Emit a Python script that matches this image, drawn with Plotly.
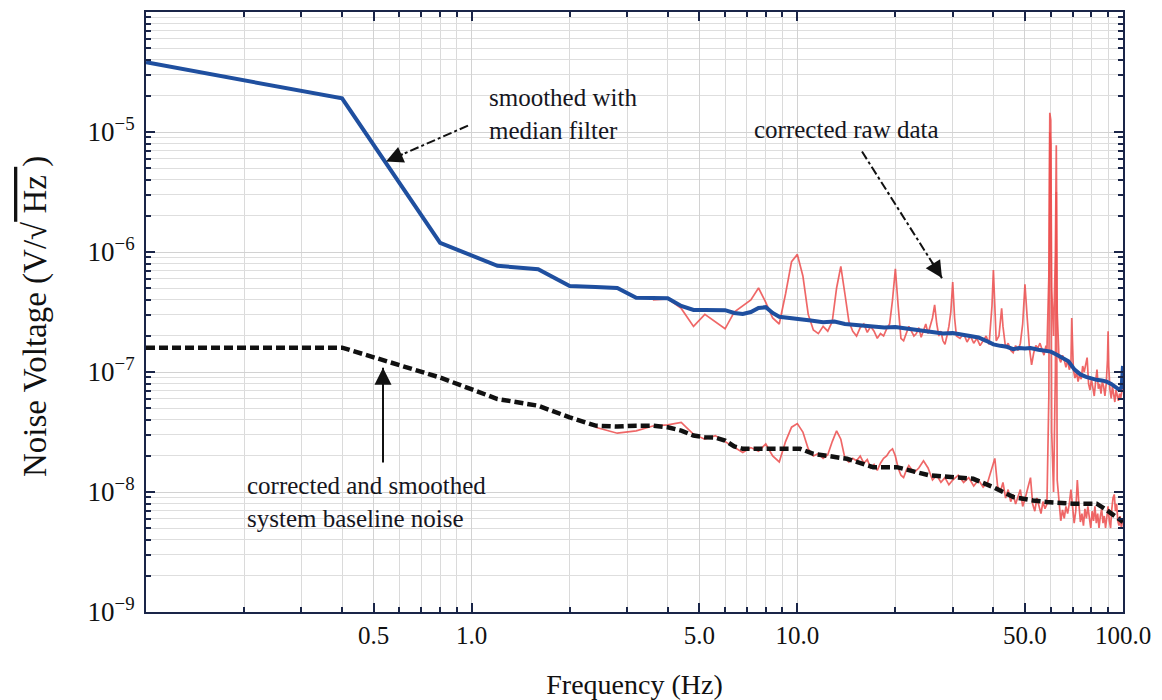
import plotly.graph_objects as go

# ---------------- data ----------------
# smoothed (median filter) measured noise, frequency in Hz, value as log10(V/sqrt(Hz))
smooth_freq = [0.1, 0.4, 0.8, 1.2, 1.6, 2.0, 2.4, 2.8, 3.2, 3.6, 4.0, 4.4, 4.8, 5.2, 5.6, 6.0,
               6.4, 6.8, 7.2, 7.6, 8.0, 8.4, 8.8, 10, 11, 12, 13, 14, 15.5, 17, 18.5, 20, 22,
               24, 26, 28, 30, 32, 34, 36, 38, 40, 42, 44, 46, 48, 50, 52, 55, 58, 60, 62, 65,
               68, 71, 74, 77, 80, 83, 86, 89, 92, 95, 97, 99, 100]
smooth_log10v = [-4.419, -4.720, -5.924, -6.115, -6.143, -6.284, -6.292, -6.300, -6.381, -6.383,
                 -6.385, -6.450, -6.483, -6.483, -6.485, -6.485, -6.508, -6.517, -6.500, -6.467,
                 -6.460, -6.508, -6.540, -6.555, -6.570, -6.585, -6.580, -6.600, -6.610, -6.615,
                 -6.630, -6.625, -6.640, -6.655, -6.660, -6.680, -6.675, -6.690, -6.700, -6.712,
                 -6.740, -6.770, -6.782, -6.790, -6.810, -6.800, -6.805, -6.800, -6.815, -6.824,
                 -6.830, -6.850, -6.880, -6.910, -6.980, -7.020, -7.040, -7.055, -7.065, -7.070,
                 -7.080, -7.100, -7.130, -7.145, -7.130, -6.950]

# smoothed system baseline noise
base_freq = [0.1, 0.4, 0.8, 1.2, 1.6, 2.0, 2.4, 2.8, 3.2, 3.6, 4.0, 4.4, 4.8, 5.2, 5.6, 6.0,
             6.4, 6.8, 8.8, 10.2, 11.2, 14.2, 17.1, 20.2, 25.5, 34.7, 40, 46.1, 52.9, 58.3,
             70, 83, 88, 92, 96.5, 100]
base_log10v = [-6.797, -6.797, -7.046, -7.225, -7.281, -7.378, -7.447, -7.455, -7.447, -7.447,
               -7.461, -7.488, -7.530, -7.544, -7.546, -7.571, -7.620, -7.640, -7.640, -7.640,
               -7.682, -7.723, -7.793, -7.793, -7.862, -7.890, -7.960, -8.042, -8.070, -8.084,
               -8.097, -8.097, -8.140, -8.180, -8.219, -8.250]

# corrected raw data (measurement)
raw_freq = [3.6, 4.0, 4.4, 4.8, 5.2, 5.6, 6.0, 6.4, 6.8, 7.2, 7.6, 8.0, 8.4, 8.8, 9.2, 9.6, 10.0,
            10.4, 10.8, 11.2, 11.6, 12.0, 12.4, 12.8, 13.2, 13.6, 14.0, 14.4, 14.8, 15.2, 15.6,
            16.0, 16.4, 16.8, 17.2, 17.6, 18.0, 18.4, 18.8, 19.2, 19.6, 20.0, 20.4, 20.8, 21.2,
            21.6, 22.0, 22.4, 22.8, 23.2, 23.6, 24.0, 24.4, 24.8, 25.2, 25.6, 26.0, 26.4, 26.8,
            27.2, 27.6, 28.0, 28.4, 28.8, 29.2, 29.6, 30.0, 30.4, 30.8, 31.6, 32.4, 33.2, 34.0,
            34.8, 35.6, 36.4, 37.2, 38.0, 38.8, 39.6, 40.0, 40.4, 40.8, 41.6, 42.4, 42.8, 43.6,
            44.4, 45.2, 46.0, 46.8, 47.6, 48.4, 49.2, 50.0, 50.8, 51.6, 52.4, 53.2, 54.0, 54.8,
            55.6, 56.4, 57.2, 58.0, 58.4, 59.2, 59.6, 60.0, 60.4, 61.2, 62.0, 62.4, 62.8, 63.6,
            64.4, 65.2, 66.0, 66.8, 67.6, 68.4, 69.2, 69.6, 70.4, 71.2, 72.0, 72.8, 73.6, 74.4,
            75.2, 76.0, 77.6, 78.4, 79.2, 80.0, 80.8, 81.6, 82.4, 83.2, 84.0, 84.8, 85.6, 86.4,
            87.2, 88.0, 88.8, 89.6, 90.0, 90.4, 91.2, 92.0, 92.8, 93.6, 94.4, 95.2, 96.0, 96.8,
            97.6, 98.4, 99.2, 100.0]
raw_log10v = [-6.40, -6.39, -6.47, -6.62, -6.52, -6.58, -6.64, -6.50, -6.45, -6.40, -6.30,
              -6.42, -6.55, -6.60, -6.35, -6.08, -6.02, -6.20, -6.52, -6.65, -6.68, -6.62,
              -6.66, -6.58, -6.30, -6.12, -6.35, -6.58, -6.66, -6.70, -6.63, -6.60, -6.67,
              -6.62, -6.66, -6.72, -6.68, -6.70, -6.64, -6.60, -6.40, -6.14, -6.45, -6.72,
              -6.74, -6.68, -6.62, -6.66, -6.70, -6.68, -6.63, -6.71, -6.66, -6.60, -6.68,
              -6.62, -6.55, -6.44, -6.60, -6.70, -6.66, -6.74, -6.77, -6.70, -6.62, -6.50,
              -6.25, -6.55, -6.70, -6.72, -6.68, -6.75, -6.70, -6.76, -6.72, -6.78, -6.74,
              -6.70, -6.77, -6.45, -6.15, -6.40, -6.74, -6.70, -6.47, -6.62, -6.80, -6.76,
              -6.82, -6.84, -6.78, -6.82, -6.76, -6.60, -6.27, -6.55, -6.80, -6.94, -6.84,
              -6.78, -6.80, -6.76, -6.82, -6.86, -6.78, -6.82, -6.20, -4.84, -4.90, -6.30,
              -6.70, -6.00, -5.11, -6.50, -6.88, -6.92, -6.86, -6.90, -6.96, -6.90, -6.98,
              -6.94, -6.55, -6.98, -7.05, -7.00, -7.08, -7.02, -7.06, -6.95, -7.00, -6.88,
              -7.10, -7.15, -7.06, -7.12, -7.20, -7.08, -6.98, -7.14, -7.10, -7.18, -7.08,
              -7.12, -7.20, -7.10, -6.90, -6.66, -6.95, -7.15, -7.22, -7.12, -7.18, -7.25,
              -7.15, -7.20, -7.24, -7.18, -7.22, -7.16, -7.10]

# corrected raw system baseline
base_raw_freq = [2.4, 2.8, 3.2, 3.6, 4.0, 4.4, 4.8, 5.2, 5.6, 6.0, 6.4, 6.8, 7.2, 7.6, 8.0, 8.4,
                 8.8, 9.2, 9.6, 10.0, 10.4, 10.8, 11.2, 11.6, 12.0, 12.4, 12.8, 13.2, 13.6, 14.0,
                 14.4, 14.8, 15.2, 15.6, 16.0, 16.4, 16.8, 17.2, 17.6, 18.0, 18.4, 18.8, 19.2,
                 19.6, 20.0, 20.4, 20.8, 21.2, 21.6, 22.0, 22.8, 23.6, 24.4, 25.2, 26.0, 26.8,
                 27.6, 28.4, 29.2, 30.0, 31.2, 32.4, 33.6, 34.8, 36.0, 37.2, 38.4, 39.6, 40.4,
                 41.2, 42.0, 42.8, 43.6, 44.4, 45.2, 46.0, 46.8, 47.6, 48.4, 49.2, 50.0, 51.2,
                 52.0, 52.8, 53.6, 54.4, 55.2, 56.0, 56.8, 57.6, 58.4, 59.2, 59.6, 60.0, 60.4,
                 61.2, 62.0, 62.4, 62.8, 63.6, 64.4, 65.2, 66.0, 66.8, 67.6, 68.4, 69.2, 70.0,
                 70.8, 71.6, 72.4, 73.2, 74.0, 74.8, 75.6, 76.4, 77.2, 78.0, 78.8, 79.6, 80.4,
                 81.2, 82.0, 82.8, 83.6, 84.4, 85.2, 86.0, 86.8, 87.6, 88.4, 89.2, 90.0, 90.8,
                 91.6, 92.4, 93.2, 94.0, 94.8, 95.6, 96.4, 97.2, 98.0, 98.8, 99.6, 100.0]
base_raw_log10v = [-7.46, -7.51, -7.49, -7.45, -7.44, -7.42, -7.52, -7.56, -7.53, -7.58, -7.63,
                   -7.67, -7.63, -7.66, -7.60, -7.70, -7.75, -7.58, -7.46, -7.43, -7.50, -7.64,
                   -7.70, -7.68, -7.72, -7.69, -7.58, -7.49, -7.56, -7.72, -7.75, -7.72, -7.74,
                   -7.70, -7.76, -7.73, -7.80, -7.77, -7.82, -7.76, -7.72, -7.70, -7.66, -7.64,
                   -7.70, -7.80, -7.86, -7.88, -7.82, -7.78, -7.84, -7.80, -7.74, -7.80, -7.90,
                   -7.86, -7.92, -7.88, -7.94, -7.90, -7.86, -7.92, -7.88, -7.95, -7.90, -7.96,
                   -7.92, -7.80, -7.72, -7.95, -8.00, -7.92, -8.05, -7.98, -8.08, -8.02, -8.10,
                   -8.04, -7.98, -8.12, -8.06, -7.95, -7.88, -8.10, -8.16, -8.05, -8.12, -8.18,
                   -8.08, -8.14, -8.10, -7.20, -5.00, -5.10, -7.50, -8.00, -7.00, -5.50, -7.90,
                   -8.10, -8.24, -8.15, -8.22, -8.12, -8.18, -8.10, -7.98, -8.12, -8.26, -8.16,
                   -7.90, -8.10, -8.25, -8.18, -8.28, -8.14, -8.22, -8.12, -8.20, -8.30, -8.16,
                   -8.24, -8.12, -8.26, -8.18, -8.30, -8.20, -8.14, -8.26, -8.20, -8.30, -8.18,
                   -8.12, -8.24, -8.30, -8.14, -8.05, -8.02, -8.16, -8.10, -8.24, -8.28, -8.20,
                   -8.30, -8.26, -8.22]

x_tick_vals = [0.5, 1, 5, 10, 50, 100]
x_tick_text = ["0.5", "1.0", "5.0", "10.0", "50.0", "100.0"]
y_tick_vals = [1e-9, 1e-8, 1e-7, 1e-6, 1e-5]
y_tick_text = ["10<sup>\u22129</sup>", "10<sup>\u22128</sup>", "10<sup>\u22127</sup>",
               "10<sup>\u22126</sup>", "10<sup>\u22125</sup>"]

# ---------------- figure ----------------
# the page body has an 8px margin, so the figure is 16px smaller than the window
OFF = 8
W, H = 1162 - 2 * OFF, 700 - OFF
L, R, T, B = 146 - OFF, W - (1123 - OFF), 10 - OFF, 88
PW, PH = W - L - R, H - T - B


def px(x):
    # x in window pixels -> paper
    return (x - OFF - L) / PW


def py(y):
    # y in window pixels -> paper
    return (H - B - (y - OFF)) / PH


minor_x = [k * 10 ** e for e in (-1, 0, 1) for k in range(2, 10)]
minor_y = [k * 10.0 ** e for e in range(-9, -4) for k in range(2, 10)]

RED = "rgba(236,76,76,0.85)"
BLUE = "#1f4f9f"
AX = "#1a2548"
FONT = "Liberation Serif"

fig = go.Figure()
fig.add_trace(go.Scatter(x=base_raw_freq, y=[10 ** v for v in base_raw_log10v], mode="lines",
                         line=dict(color=RED, width=1.7), hoverinfo="skip"))
fig.add_trace(go.Scatter(x=raw_freq, y=[10 ** v for v in raw_log10v], mode="lines",
                         line=dict(color=RED, width=1.7), hoverinfo="skip"))
fig.add_trace(go.Scatter(x=smooth_freq, y=[10 ** v for v in smooth_log10v], mode="lines",
                         line=dict(color=BLUE, width=4), hoverinfo="skip"))
fig.add_trace(go.Scatter(x=base_freq, y=[10 ** v for v in base_log10v], mode="lines",
                         line=dict(color="#111111", width=4.5, dash="9px,4px"), hoverinfo="skip"))

fig.update_layout(
    width=W, height=H, margin=dict(l=L, r=R, t=T, b=B),
    paper_bgcolor="white", plot_bgcolor="white", showlegend=False,
    font=dict(family=FONT, color="#111111"),
)
fig.update_xaxes(
    type="log", range=[-1, 2], tickmode="array", tickvals=x_tick_vals, ticktext=x_tick_text,
    ticks="inside", ticklen=9, tickwidth=1.5, tickcolor=AX,
    showline=True, linecolor=AX, linewidth=2, mirror="ticks",
    showgrid=True, gridcolor="#d2d2d2", gridwidth=1.2,
    minor=dict(tickmode="array", tickvals=minor_x, ticks="inside", ticklen=5, tickcolor=AX,
               showgrid=True, gridcolor="#dadada", gridwidth=1.2),
    tickfont=dict(size=25, family=FONT, color="#111111"),
    title=dict(text="Frequency (Hz)", font=dict(size=28, family=FONT, color="#111111"), standoff=26),
    zeroline=False,
)
fig.update_yaxes(
    type="log", range=[-9, -4], tickmode="array", tickvals=y_tick_vals, ticktext=y_tick_text,
    ticks="inside", ticklen=9, tickwidth=1.5, tickcolor=AX,
    showline=True, linecolor=AX, linewidth=2, mirror="ticks",
    showgrid=True, gridcolor="#d2d2d2", gridwidth=1.2,
    minor=dict(tickmode="array", tickvals=minor_y, ticks="inside", ticklen=5, tickcolor=AX,
               showgrid=True, gridcolor="#dedede", gridwidth=1),
    tickfont=dict(size=27, family=FONT, color="#111111"),
    ticklabelstandoff=4,
    zeroline=False,
)

TXT = dict(family=FONT, size=25, color="#16161e")
ann = []
# y axis title
ann.append(dict(xref="paper", yref="paper", x=px(36), y=py(316), textangle=-90, showarrow=False,
                text="Noise Voltage (V/\u221a<span style='text-decoration:overline'> Hz </span>)",
                font=dict(family=FONT, size=33, color="#111111"), xanchor="center", yanchor="middle"))
# labels
ann.append(dict(xref="paper", yref="paper", x=px(487), y=py(112), xanchor="left", yanchor="middle",
                align="left", showarrow=False, text="smoothed with<br>median filter", font=TXT))
ann.append(dict(xref="paper", yref="paper", x=px(752), y=py(128), xanchor="left", yanchor="middle",
                align="left", showarrow=False, text="corrected raw data", font=TXT))
ann.append(dict(xref="paper", yref="paper", x=px(245), y=py(502), xanchor="left", yanchor="middle",
                align="left", showarrow=False, text="corrected and smoothed<br>system baseline noise",
                font=TXT))

shapes = []


def arrow(tail, head, dash):
    (tx, ty), (hx, hy) = tail, head
    shapes.append(dict(type="line", xref="paper", yref="paper", x0=px(tx), y0=py(ty),
                       x1=px(hx), y1=py(hy), line=dict(color="#111111", width=2, dash=dash)))
    dx, dy = tx - hx, ty - hy
    n = (dx * dx + dy * dy) ** 0.5
    ann.append(dict(xref="paper", yref="paper", x=px(hx), y=py(hy), text="", showarrow=True,
                    ax=dx / n * 20, ay=dy / n * 20, arrowhead=2, arrowsize=1.7, arrowwidth=2,
                    arrowcolor="#111111", standoff=0, startstandoff=0))


arrow((468, 124), (386, 160), "dashdot")
arrow((862, 150), (942, 277), "dashdot")
arrow((383, 462), (383, 367), "solid")

fig.update_layout(annotations=ann, shapes=shapes)
fig.write_html("out.html")
